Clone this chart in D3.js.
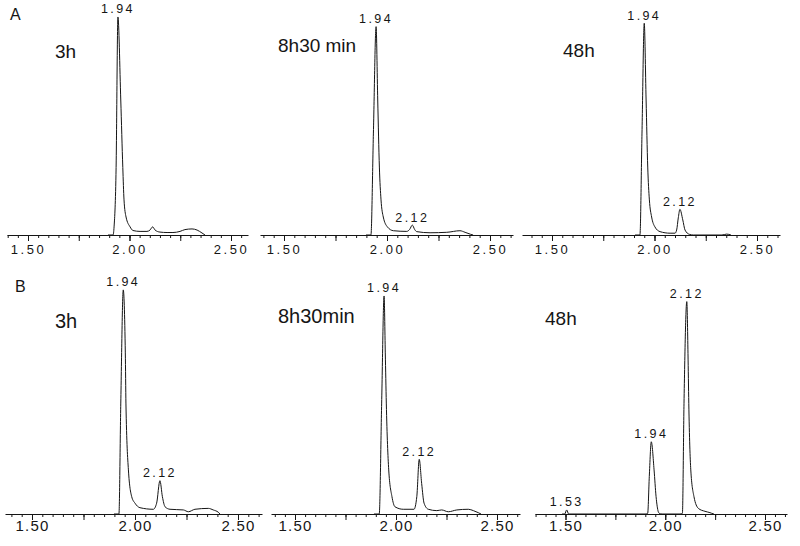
<!DOCTYPE html>
<html><head><meta charset="utf-8">
<script src="https://cdn.jsdelivr.net/npm/d3@7"></script>
<style>
body{margin:0;background:#fff}
svg{display:block;font-family:"Liberation Sans",Arial,sans-serif}
</style></head>
<body><svg id="c" width="800" height="546"></svg>
<script>
// ---------------- DATA ----------------
const rowLetters = ["A", "B"];
const timeLabels = ["3h", "8h30 min", "48h", "3h", "8h30min", "48h"];
const tickLabels = ["1.50", "2.00", "2.50"];
const tickValues = [1.50, 2.00, 2.50];

// chromatogram traces: [retention time (min), relative intensity]
const traceA_3h = [[1.894,0],[1.919,0],[1.924,3.6],[1.934,30],[1.943,96.9],[1.957,60],[1.967,30],[1.973,15.6],[1.983,8],[2.003,3.6],[2.017,2],[2.052,1.6],[2.086,1.6],[2.101,2.2],[2.114,3.6],[2.126,2.2],[2.150,1.3],[2.185,1.1],[2.214,1.1],[2.249,1.6],[2.273,2.4],[2.308,2.7],[2.333,2.2],[2.357,0.9],[2.372,0]];
const traceA_8h30 = [[1.898,0],[1.922,0],[1.934,45.3],[1.947,92.6],[1.955,60],[1.963,30.2],[1.971,15.6],[1.982,8],[2.002,3.6],[2.031,1.9],[2.096,1.6],[2.110,2.5],[2.123,4.4],[2.134,2.5],[2.144,1.5],[2.209,1.0],[2.290,1.2],[2.354,1.9],[2.379,1.2],[2.406,0.3],[2.418,0]];
const traceA_48h = [[1.905,0],[1.929,0],[1.939,45.3],[1.950,94.1],[1.959,60],[1.967,30.2],[1.975,15.6],[1.986,8],[2.002,3.6],[2.027,1.5],[2.076,0.8],[2.100,0.8],[2.108,2.2],[2.116,7.6],[2.124,11.4],[2.138,6.7],[2.149,2.2],[2.170,0.3],[2.189,0],[2.329,0],[2.352,0.4],[2.373,0]];
const traceB_3h = [[1.898,0],[1.922,0],[1.931,49.3],[1.943,99.6],[1.953,71.6],[1.956,49.3],[1.968,19.6],[1.984,7.7],[2.000,4.8],[2.024,2.8],[2.089,2.1],[2.105,4.8],[2.121,14.8],[2.133,7.7],[2.146,3.2],[2.170,2.1],[2.235,1.8],[2.259,1.0],[2.291,2.1],[2.356,2.5],[2.380,1.8],[2.404,0.8],[2.413,0]];
const traceB_8h30 = [[1.891,0],[1.917,0],[1.929,49.3],[1.941,96.9],[1.947,71.6],[1.952,49.3],[1.964,19.6],[1.980,7.7],[1.995,3.2],[2.036,2.1],[2.089,2.1],[2.103,7.7],[2.115,24.3],[2.127,13.6],[2.139,4.8],[2.160,2.1],[2.202,1.5],[2.226,1.8],[2.259,1.0],[2.301,1.8],[2.358,2.1],[2.383,1.5],[2.407,0.6],[2.421,0]];
const traceB_48h = [[1.483,0],[1.496,0],[1.506,1.8],[1.516,0],[1.899,0],[1.912,0.3],[1.920,16.6],[1.930,32.1],[1.944,19.6],[1.954,7.7],[1.965,1.0],[1.970,0.3],[1.984,0],[2.074,0],[2.086,0.3],[2.094,49.2],[2.108,94.4],[2.114,71.4],[2.118,49.2],[2.128,19.6],[2.144,7.7],[2.166,2.5],[2.199,1.2],[2.224,0.6],[2.233,0.3],[2.244,0]];

const peaksA_3h = ["1.94"];
const peaksA_8h30 = ["1.94", "2.12"];
const peaksA_48h = ["1.94", "2.12"];
const peaksB_3h = ["1.94", "2.12"];
const peaksB_8h30 = ["1.94", "2.12"];
const peaksB_48h = ["1.53", "1.94", "2.12"];

const traces = [traceA_3h, traceA_8h30, traceA_48h, traceB_3h, traceB_8h30, traceB_48h];
const peakLabels = [peaksA_3h, peaksA_8h30, peaksA_48h, peaksB_3h, peaksB_8h30, peaksB_48h];

// ---------------- LAYOUT ----------------
const rows = [
  {axisY:235, letterX:10, letterY:20, tickFont:13, tickLS:2.5, tickY:10},
  {axisY:514, letterX:15, letterY:292, tickFont:15, tickLS:1.2, tickY:6}
];
const layout = [
  {row:0, x150:28,    x250:231, left:7,   right:248, tx:55,  ty:58,  ts:19},
  {row:0, x150:284,   x250:490, left:260, right:513, tx:278, ty:52,  ts:19},
  {row:0, x150:552,   x250:757, left:522, right:780, tx:563, ty:57,  ts:19},
  {row:1, x150:32,    x250:238, left:5,   right:262, tx:55,  ty:328, ts:20},
  {row:1, x150:295,   x250:497, left:271, right:520, tx:278, ty:323, ts:20},
  {row:1, x150:565.5, x250:765, left:535, right:787, tx:545, ty:325, ts:19}
];
const plotHeight = 225;

const svg = d3.select("#c");
const ink = "#151515";

rows.forEach((r, i) => {
  svg.append("text").attr("x", r.letterX).attr("y", r.letterY)
    .attr("font-size", 16).attr("fill", ink).text(rowLetters[i]);
});

layout.forEach((L, i) => {
  const R = rows[L.row];
  const base = d3.scaleLinear().domain([1.5, 2.5]).range([L.x150, L.x250]);
  const x = d3.scaleLinear().domain([base.invert(L.left), base.invert(L.right)]).range([L.left, L.right]);
  const y = d3.scaleLinear().domain([0, 100]).range([R.axisY, R.axisY - plotHeight]);
  const g = svg.append("g");
  const [d0, d1] = x.domain();

  const minor = d3.range(Math.ceil(d0 / 0.05) * 0.05, d1, 0.05).map(v => +v.toFixed(3));
  const major = d3.range(Math.ceil(d0 / 0.25) * 0.25, d1, 0.25).map(v => +v.toFixed(3));

  const ax1 = g.append("g").attr("transform", `translate(0,${R.axisY})`)
    .call(d3.axisBottom(x).tickValues(minor).tickSize(3).tickSizeOuter(0).tickFormat(""));
  ax1.select(".domain").attr("stroke", ink);
  const ax2 = g.append("g").attr("transform", `translate(0,${R.axisY})`)
    .call(d3.axisBottom(x).tickValues(major).tickSize(6).tickSizeOuter(0).tickFormat(""));
  ax2.select(".domain").remove();
  const ax3 = g.append("g").attr("transform", `translate(0,${R.axisY})`)
    .call(d3.axisBottom(x).tickValues(tickValues).tickSize(6).tickSizeOuter(0)
      .tickFormat((d, k) => tickLabels[k]));
  ax3.select(".domain").remove();
  g.selectAll(".tick line").attr("stroke", ink);
  ax3.selectAll("text").attr("y", R.tickY).attr("dy", "0.71em")
    .attr("font-size", R.tickFont).attr("letter-spacing", R.tickLS)
    .attr("fill", ink).attr("font-family", '"Liberation Sans",Arial,sans-serif');

  const line = d3.line().x(d => x(d[0])).y(d => y(d[1])).curveMonotoneX;
  g.append("path").datum(traces[i])
    .attr("d", d3.line().x(d => x(d[0])).y(d => y(d[1])).curve(d3.curveMonotoneX))
    .attr("fill", "none").attr("stroke", ink).attr("stroke-width", 1);

  // peak annotations, placed above the apex found near the labelled time
  peakLabels[i].forEach(lbl => {
    const v = +lbl;
    const near = traces[i].filter(p => Math.abs(p[0] - v) <= 0.035);
    const apex = near.reduce((a, b) => (b[1] > a[1] ? b : a));
    g.append("text").attr("x", x(apex[0])).attr("y", y(apex[1]) - 3.5)
      .attr("text-anchor", "middle").attr("font-size", 12.5)
      .attr("letter-spacing", 2.4).attr("fill", ink).text(lbl);
  });

  svg.append("text").attr("x", L.tx).attr("y", L.ty)
    .attr("font-size", L.ts).attr("fill", ink).text(timeLabels[i]);
});
</script></body></html>
